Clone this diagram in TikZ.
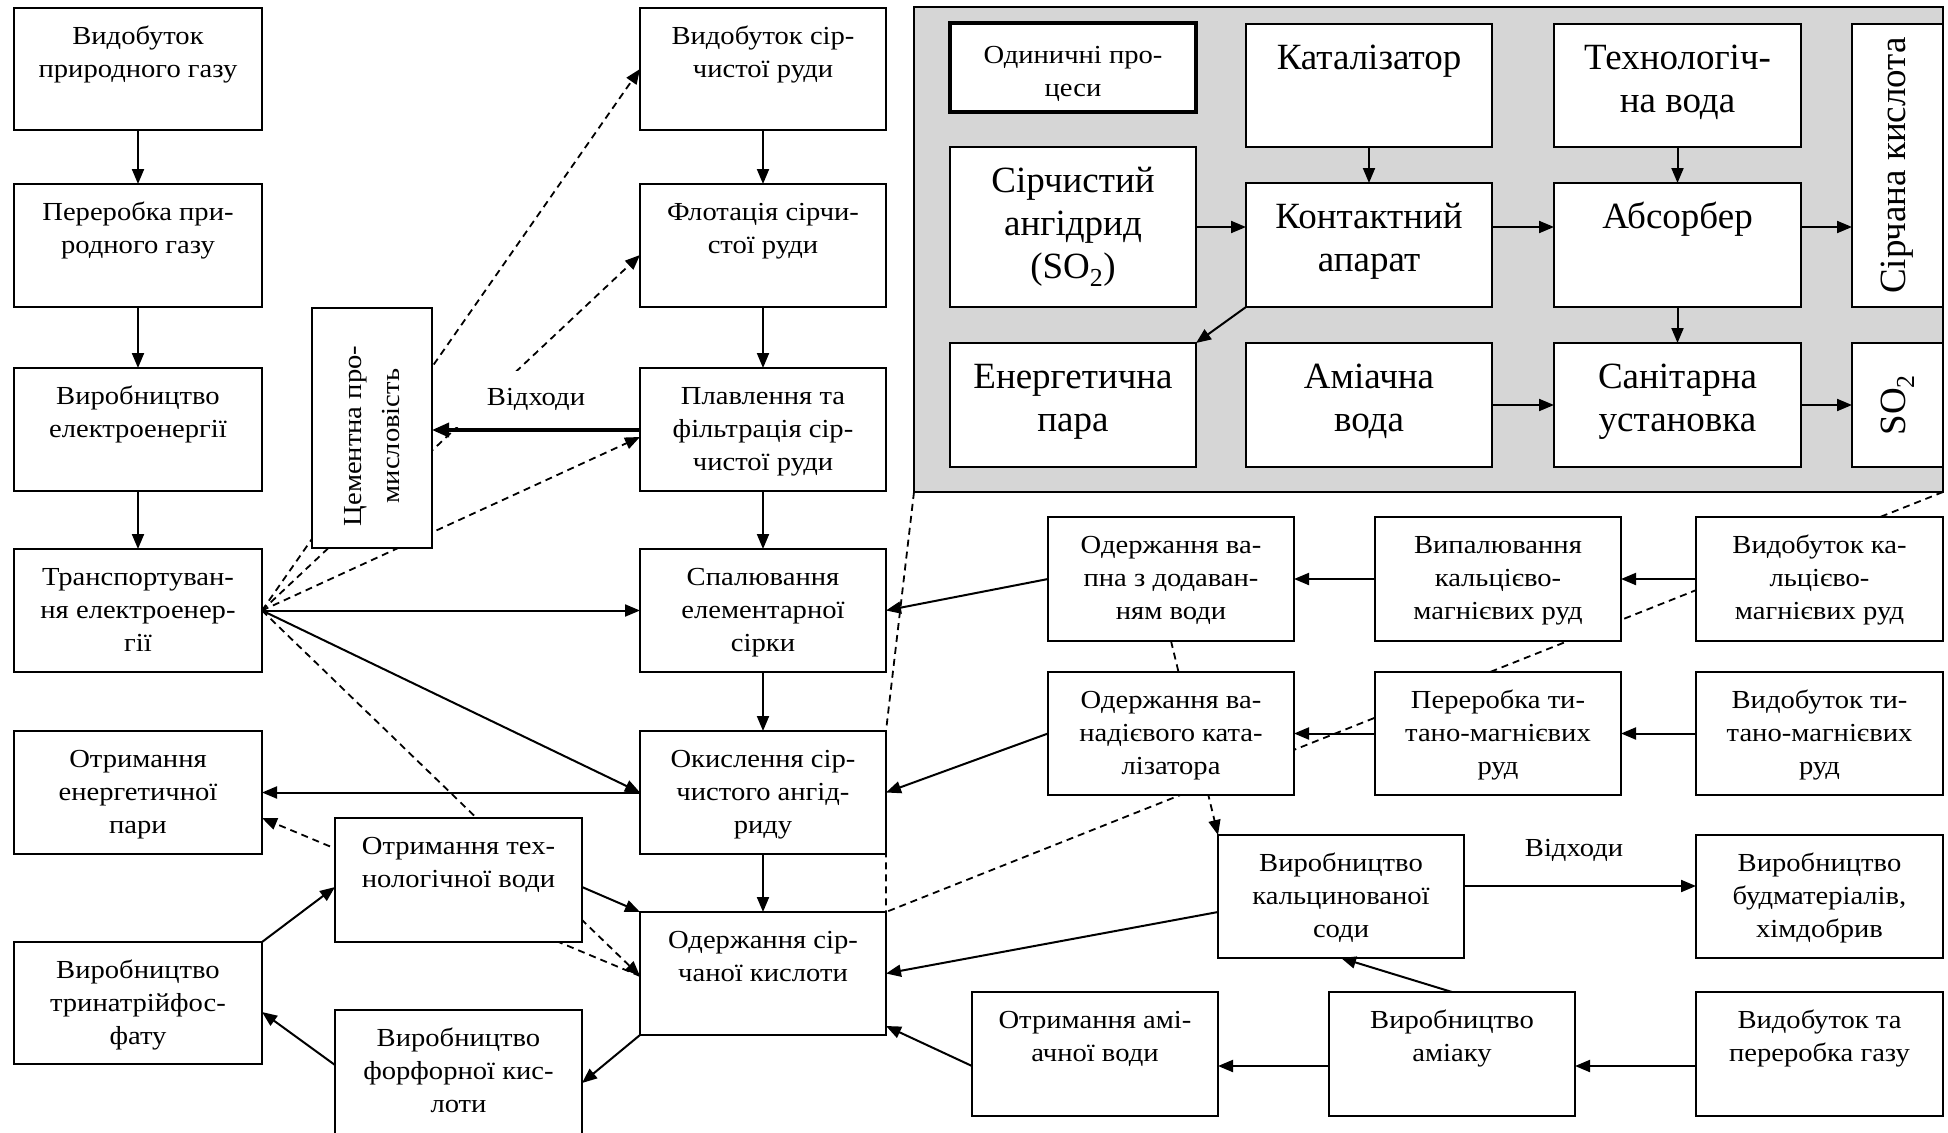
\documentclass[tikz,border=0pt]{standalone}
\usepackage{fontspec}
\setmainfont{Liberation Serif}
\newfontfamily\widerserif[FakeStretch=1.1]{Liberation Serif}
\usetikzlibrary{arrows.meta,backgrounds}

% type sizes: box captions, process panel, rotated caption
\newcommand\mainsz{\widerserif\fontsize{26}{33}\selectfont}
\newcommand\panelsz{\fontsize{37}{43}\selectfont}
\newcommand\cemsz{\widerserif\fontsize{26}{38}\selectfont}

\tikzset{
  boxst/.style={draw, fill=white, line width=1.8pt, inner sep=0pt, outer sep=0pt, anchor=north west},
  mtxt/.style={font=\mainsz, align=center, inner sep=0pt, anchor=north, yshift=-13pt},
  ptxt/.style={font=\panelsz, align=center, inner sep=0pt, anchor=north, yshift=-15pt},
  rtxt/.style={font=\panelsz, inner sep=0pt, rotate=90},
  arr/.style={line width=2pt, -{Triangle[length=15pt,width=12pt]}},
  thickarr/.style={line width=3.5pt, -{Triangle[length=17pt,width=14pt]}},
  dln/.style={line width=1.8pt, dash pattern=on 7pt off 5pt},
  darr/.style={dln, -{Triangle[length=15pt,width=12pt]}},
  lbl/.style={font=\mainsz, inner sep=0pt},
}

% box with its caption set from the top: [caption style]{name}{x1}{y1}{x2}{y2}{caption}
\newcommand\tbox[7][mtxt]{%
  \node[boxst, minimum width={(#5-#3)*1pt}, minimum height={(#6-#4)*1pt}] (#2) at (#3,#4) {};
  \node[#1] (#2-t) at (#2.north) {\strut #7};}

\begin{document}
\begin{tikzpicture}[x=1pt, y=-1pt]
\useasboundingbox (0,0) rectangle (1948,1132);

% ---------- left column ----------
\tbox{L1}{14}{8}{262}{130}{Видобуток\\природного газу}
\tbox{L2}{14}{184}{262}{307}{Переробка при-\\родного газу}
\tbox{L3}{14}{368}{262}{491}{Виробництво\\електроенергії}
\tbox{L4}{14}{549}{262}{672}{Транспортуван-\\ня електроенер-\\гії}
\tbox{L5}{14}{731}{262}{854}{Отримання\\енергетичної\\пари}
\tbox{L6}{14}{942}{262}{1064}{Виробництво\\тринатрійфос-\\фату}

% cement industry
\node[boxst, minimum width=120pt, minimum height=240pt] (CE) at (312,308) {};
\node[font=\cemsz, align=center, inner sep=0pt, rotate=90] (CE-t) at (372,436) {Цементна про-\\мисловість};

% water and phosphoric acid
\tbox{T1}{335}{818}{582}{942}{Отримання тех-\\нологічної води}
\tbox{T2}{335}{1010}{582}{1145}{Виробництво\\форфорної кис-\\лоти}

% ---------- sulphur chain ----------
\tbox{M1}{640}{8}{886}{130}{Видобуток сір-\\чистої руди}
\tbox{M2}{640}{184}{886}{307}{Флотація сірчи-\\стої руди}
\tbox{M3}{640}{368}{886}{491}{Плавлення та\\фільтрація сір-\\чистої руди}
\tbox{M4}{640}{549}{886}{672}{Спалювання\\елементарної\\сірки}
\tbox{M5}{640}{731}{886}{854}{Окислення сір-\\чистого ангід-\\риду}
\tbox{M6}{640}{912}{886}{1035}{Одержання сір-\\чаної кислоти}

\node[lbl, fill=white, minimum width=170pt, minimum height=56pt] (W1) at (536,399) {Відходи};

% ---------- unit processes panel ----------
\node[boxst, fill=black!16, minimum width=1029pt, minimum height=485pt] (PN) at (914,7) {};
\node[boxst, line width=4pt, minimum width=246pt, minimum height=89pt] (P0) at (950,23) {};
\node[mtxt, yshift=-4pt] (P0-t) at (P0.north) {\strut Одиничні про-\\цеси};
\tbox[ptxt]{P1}{1246}{24}{1492}{147}{Каталізатор}
\tbox[ptxt]{P2}{1554}{24}{1801}{147}{Технологіч-\\на вода}
\node[boxst, minimum width=91pt, minimum height=283pt] (P3) at (1852,24) {};
\node[rtxt] (P3-t) at (P3.center) {Сірчана кислота};
\tbox[ptxt]{P4}{950}{147}{1196}{307}{Сірчистий\\ангідрид\\(SO\textsubscript{2})}
\tbox[ptxt]{P5}{1246}{183}{1492}{307}{Контактний\\апарат}
\tbox[ptxt]{P6}{1554}{183}{1801}{307}{Абсорбер}
\tbox[ptxt]{P7}{950}{343}{1196}{467}{Енергетична\\пара}
\tbox[ptxt]{P8}{1246}{343}{1492}{467}{Аміачна\\вода}
\tbox[ptxt]{P9}{1554}{343}{1801}{467}{Санітарна\\установка}
\node[boxst, minimum width=91pt, minimum height=124pt] (P10) at (1852,343) {};
\node[rtxt] (P10-t) at (P10.center) {SO\textsubscript{2}};

% ---------- right part ----------
\tbox{R1a}{1048}{517}{1294}{641}{Одержання ва-\\пна з додаван-\\ням води}
\tbox{R1b}{1375}{517}{1621}{641}{Випалювання\\кальцієво-\\магнієвих руд}
\tbox{R1c}{1696}{517}{1943}{641}{Видобуток ка-\\льцієво-\\магнієвих руд}
\tbox{R2a}{1048}{672}{1294}{795}{Одержання ва-\\надієвого ката-\\лізатора}
\tbox{R2b}{1375}{672}{1621}{795}{Переробка ти-\\тано-магнієвих\\руд}
\tbox{R2c}{1696}{672}{1943}{795}{Видобуток ти-\\тано-магнієвих\\руд}
\tbox{R3a}{1218}{835}{1464}{958}{Виробництво\\кальцинованої\\соди}
\tbox{R3b}{1696}{835}{1943}{958}{Виробництво\\будматеріалів,\\хімдобрив}
\tbox{R4a}{972}{992}{1218}{1116}{Отримання амі-\\ачної води}
\tbox{R4b}{1329}{992}{1575}{1116}{Виробництво\\аміаку}
\tbox{R4c}{1696}{992}{1943}{1116}{Видобуток та\\переробка газу}

\node[lbl] (W2) at (1574,850) {Відходи};

% ---------- solid connectors ----------
\draw[arr] (L1) -- (L2);
\draw[arr] (L2) -- (L3);
\draw[arr] (L3) -- (L4);
\draw[arr] (M1) -- (M2);
\draw[arr] (M2) -- (M3);
\draw[arr] (M3) -- (M4);
\draw[arr] (M4) -- (M5);
\draw[arr] (M5) -- (M6);
\draw[arr] (L4.east) -- (M4.west);
\draw[arr] (L4.east) -- (M5.west);
\draw[arr] (M5.west) -- (L5.east);
\draw[arr] (T1.east |- 0,887) -- (M6.north west);
\draw[arr] (M6.south west) -- (T2.east |- 0,1083);
\draw[arr] (T2.west |- 0,1065) -- (L6.east |- 0,1012);
\draw[arr] (L6.north east) -- (T1.west |- 0,887);
\draw[thickarr] (M3.west |- 0,430) -- (CE.east |- 0,430);

\draw[arr] (R1a.west) -- (M4.east);
\draw[arr] (R2a.west) -- (M5.east);
\draw[arr] (R3a.west |- 0,912) -- (M6.east);
\draw[arr] (R4a.west |- 0,1066) -- (M6.east |- 0,1026);
\draw[arr] (R1b) -- (R1a);
\draw[arr] (R1c) -- (R1b);
\draw[arr] (R2b) -- (R2a);
\draw[arr] (R2c) -- (R2b);
\draw[arr] (R3a.east |- 0,886) -- (R3b.west |- 0,886);
\draw[arr] (R4c.west |- 0,1066) -- (R4b.east |- 0,1066);
\draw[arr] (R4b.west |- 0,1066) -- (R4a.east |- 0,1066);
\draw[arr] (R4b.north) -- (R3a.south);

% inside the panel
\draw[arr] (P1) -- (P5);
\draw[arr] (P2) -- (P6);
\draw[arr] (P6) -- (P9);
\draw[arr] (P4.east) -- (P5.west |- P4.east);
\draw[arr] (P5.east |- P4.east) -- (P6.west |- P4.east);
\draw[arr] (P6.east |- P4.east) -- (P3.west |- P4.east);
\draw[arr] (P5.south west) -- (P7.north east);
\draw[arr] (P8) -- (P9);
\draw[arr] (P9) -- (P10);

% ---------- dashed links, kept behind the boxes ----------
\begin{pgfonlayer}{background}
\draw[darr] (L4.east) -- (M1.west);
\draw[darr] (L4.east) -- (M2.west |- 0,255);
\draw[darr] (L4.east) -- (M3.west |- 0,437);
\draw[darr] (L4.east) -- (M6.west |- 0,976);
\draw[darr] (M6.west |- 0,976) -- (L5.east |- 0,818);
\draw[darr] (R1a.south) -- (R3a.north west);
\draw[dln] (PN.south west) -- (M5.north east) -- (M6.north east);
\draw[dln] (PN.south east) -- (M6.north east);
\end{pgfonlayer}
\end{tikzpicture}
\end{document}
